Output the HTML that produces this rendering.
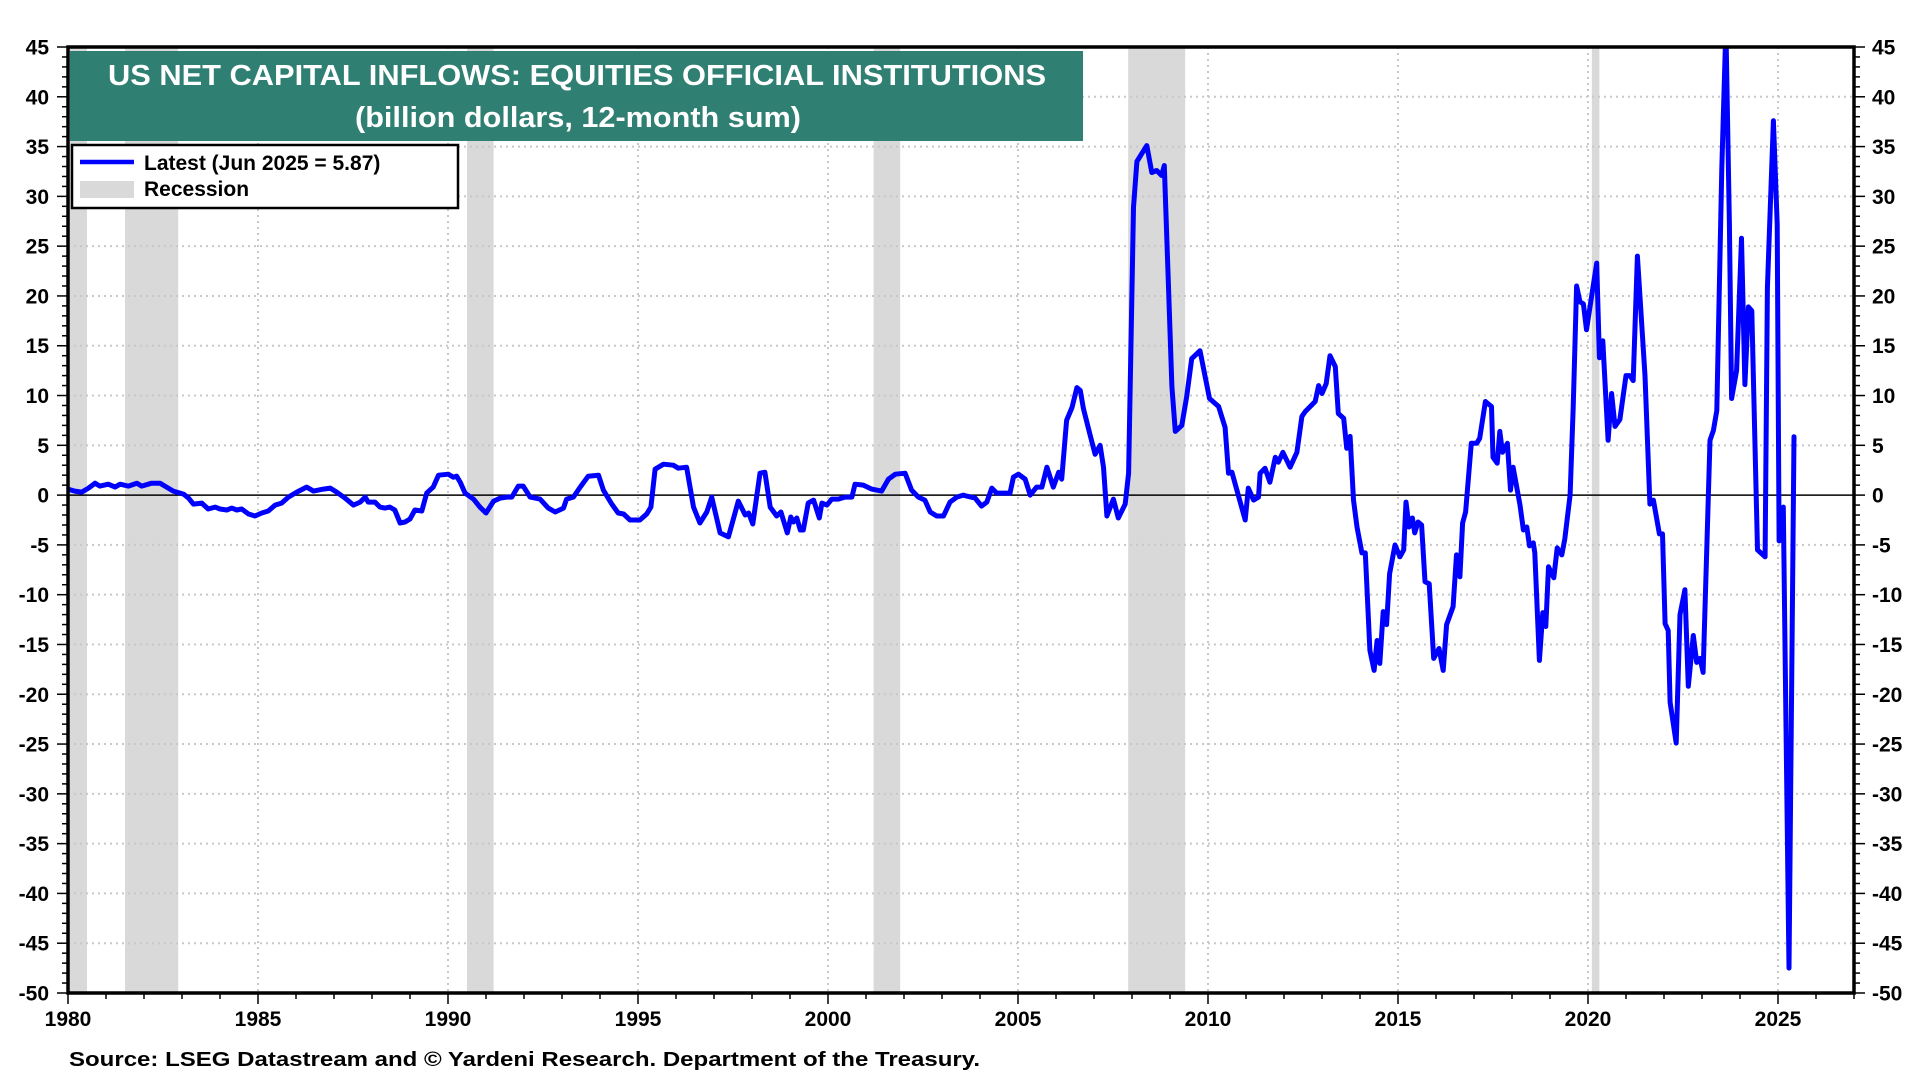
<!DOCTYPE html>
<html><head><meta charset="utf-8"><title>US Net Capital Inflows: Equities Official Institutions</title>
<style>
html,body{margin:0;padding:0;background:#fff;}
svg{display:block;font-family:"Liberation Sans",Arial,sans-serif;font-weight:bold;}
</style></head>
<body>
<svg id="chart" width="1920" height="1080" viewBox="0 0 1920 1080" xmlns="http://www.w3.org/2000/svg">
  <defs><clipPath id="plotClip"><rect x="68" y="47" width="1786" height="946"/></clipPath></defs>
  <rect x="0" y="0" width="1920" height="1080" fill="#fff"/>
  <g id="recessions"></g>
  <g id="grid"></g>
  <line id="zeroLine" stroke="#000" stroke-width="1.5"/>
  <g clip-path="url(#plotClip)"><path id="series" fill="none" stroke="#0000ff" stroke-width="5" stroke-linejoin="round" stroke-linecap="round"/></g>
  <rect x="68" y="47" width="1786" height="946" fill="none" stroke="#000" stroke-width="3.5"/>
  <g id="yLeft"></g>
  <g id="yRight"></g>
  <g id="xAxis"></g>
  <g>
    <rect x="70" y="51" width="1013" height="90" fill="#2f7f73"/>
    <text x="108" y="85" fill="#fff" font-size="29" textLength="938" lengthAdjust="spacingAndGlyphs">US NET CAPITAL INFLOWS: EQUITIES OFFICIAL INSTITUTIONS</text>
    <text x="355" y="127" fill="#fff" font-size="29" textLength="446" lengthAdjust="spacingAndGlyphs">(billion dollars, 12-month sum)</text>
  </g>
  <g>
    <rect x="72" y="145" width="386" height="63" fill="#fff" stroke="#000" stroke-width="2.5"/>
    <line x1="80" y1="162" x2="134" y2="162" stroke="#0000ff" stroke-width="4.5"/>
    <text x="144" y="170" font-size="21" fill="#000">Latest (Jun 2025 = 5.87)</text>
    <rect x="80" y="181" width="54" height="17" fill="#d9d9d9"/>
    <text x="144" y="196" font-size="21" fill="#000">Recession</text>
  </g>
  <text x="69" y="1066" font-size="20" fill="#000" textLength="911" lengthAdjust="spacingAndGlyphs">Source: LSEG Datastream and © Yardeni Research. Department of the Treasury.</text>
</svg>
<script>
const dates = [1980.0,1980.18,1980.36,1980.54,1980.71,1980.84,1981.06,1981.24,1981.37,1981.59,1981.81,1981.94,1982.2,1982.42,1982.55,1982.77,1983.04,1983.17,1983.3,1983.52,1983.69,1983.87,1984.0,1984.18,1984.31,1984.44,1984.57,1984.75,1984.92,1985.1,1985.27,1985.45,1985.62,1985.8,1986.02,1986.28,1986.46,1986.72,1986.9,1987.07,1987.29,1987.51,1987.69,1987.82,1987.9,1988.08,1988.21,1988.34,1988.47,1988.6,1988.74,1988.87,1989.0,1989.13,1989.31,1989.44,1989.61,1989.75,1990.01,1990.14,1990.23,1990.32,1990.45,1990.67,1990.84,1991.0,1991.2,1991.37,1991.54,1991.68,1991.85,1991.98,1992.16,1992.42,1992.64,1992.82,1993.04,1993.12,1993.3,1993.48,1993.69,1993.96,1994.09,1994.31,1994.48,1994.62,1994.79,1995.05,1995.23,1995.34,1995.45,1995.67,1995.93,1996.06,1996.28,1996.46,1996.63,1996.81,1996.94,1997.16,1997.38,1997.64,1997.82,1997.91,1998.02,1998.21,1998.34,1998.48,1998.65,1998.76,1998.93,1999.02,1999.09,1999.18,1999.27,1999.35,1999.48,1999.62,1999.77,1999.84,1999.97,2000.1,2000.27,2000.45,2000.63,2000.71,2000.93,2001.15,2001.41,2001.59,2001.77,2002.03,2002.2,2002.38,2002.55,2002.69,2002.86,2003.04,2003.21,2003.39,2003.56,2003.65,2003.87,2004.04,2004.18,2004.31,2004.44,2004.79,2004.88,2005.01,2005.19,2005.32,2005.49,2005.63,2005.76,2005.93,2006.07,2006.15,2006.28,2006.42,2006.55,2006.64,2006.72,2006.9,2007.03,2007.16,2007.25,2007.34,2007.51,2007.64,2007.82,2007.91,2008.04,2008.13,2008.21,2008.39,2008.52,2008.65,2008.78,2008.85,2008.96,2009.05,2009.14,2009.31,2009.44,2009.57,2009.79,2010.04,2010.28,2010.45,2010.54,2010.63,2010.98,2011.06,2011.2,2011.33,2011.37,2011.5,2011.63,2011.77,2011.85,2011.97,2012.16,2012.34,2012.47,2012.56,2012.82,2012.91,2013.0,2013.11,2013.21,2013.35,2013.43,2013.57,2013.65,2013.74,2013.83,2013.92,2014.05,2014.14,2014.26,2014.37,2014.45,2014.52,2014.61,2014.7,2014.78,2014.92,2015.05,2015.15,2015.21,2015.29,2015.38,2015.44,2015.53,2015.62,2015.71,2015.82,2015.94,2016.08,2016.19,2016.28,2016.45,2016.54,2016.63,2016.7,2016.78,2016.93,2017.07,2017.15,2017.3,2017.46,2017.5,2017.61,2017.68,2017.75,2017.88,2017.96,2018.03,2018.21,2018.3,2018.39,2018.46,2018.56,2018.6,2018.72,2018.81,2018.89,2018.96,2019.1,2019.19,2019.31,2019.39,2019.53,2019.61,2019.7,2019.79,2019.88,2019.96,2020.23,2020.3,2020.39,2020.53,2020.62,2020.71,2020.84,2021.0,2021.1,2021.19,2021.3,2021.5,2021.63,2021.72,2021.88,2021.96,2022.03,2022.11,2022.16,2022.32,2022.42,2022.55,2022.64,2022.77,2022.86,2022.95,2023.03,2023.21,2023.3,2023.39,2023.52,2023.63,2023.72,2023.78,2023.91,2024.04,2024.13,2024.22,2024.31,2024.46,2024.66,2024.72,2024.88,2024.98,2025.03,2025.14,2025.29,2025.42];
const values = [0.6,0.4,0.3,0.7,1.2,0.9,1.1,0.8,1.1,0.9,1.2,0.9,1.2,1.2,0.9,0.4,0.1,-0.3,-0.9,-0.8,-1.4,-1.2,-1.4,-1.5,-1.3,-1.5,-1.4,-1.9,-2.1,-1.8,-1.6,-1.0,-0.8,-0.2,0.3,0.8,0.4,0.6,0.7,0.3,-0.3,-1.0,-0.7,-0.2,-0.7,-0.7,-1.2,-1.3,-1.2,-1.5,-2.8,-2.7,-2.4,-1.5,-1.6,0.2,0.8,2.0,2.1,1.8,1.9,1.3,0.2,-0.4,-1.2,-1.8,-0.6,-0.3,-0.2,-0.2,0.9,0.9,-0.2,-0.4,-1.3,-1.7,-1.3,-0.4,-0.2,0.8,1.9,2.0,0.5,-0.9,-1.8,-1.9,-2.5,-2.5,-1.9,-1.2,2.6,3.1,3.0,2.7,2.8,-1.2,-2.8,-1.7,-0.2,-3.8,-4.2,-0.6,-2.0,-1.8,-2.9,2.2,2.3,-1.2,-2.1,-1.7,-3.8,-2.2,-2.7,-2.3,-3.5,-3.5,-0.8,-0.5,-2.3,-0.8,-1.0,-0.4,-0.4,-0.2,-0.2,1.1,1.0,0.6,0.4,1.6,2.1,2.2,0.5,-0.2,-0.5,-1.7,-2.1,-2.1,-0.7,-0.2,0,-0.1,-0.3,-1.1,-0.7,0.7,0.2,0.2,1.8,2.1,1.6,0.0,0.8,0.8,2.8,0.8,2.3,1.6,7.5,8.8,10.8,10.5,8.7,6.0,4.1,5.0,2.8,-2.1,-0.4,-2.3,-0.9,2.2,28.9,33.5,34.0,35.1,32.4,32.6,32.1,33.1,20.9,10.9,6.4,7.0,9.9,13.7,14.5,9.7,8.9,6.8,2.2,2.3,-2.5,0.7,-0.5,-0.2,2.2,2.7,1.3,3.8,3.3,4.3,2.8,4.3,7.9,8.4,9.4,11.0,10.2,11.2,14.0,12.9,8.2,7.7,4.7,5.9,-0.5,-3.2,-5.8,-5.8,-15.6,-17.6,-14.6,-16.9,-11.7,-13.0,-7.9,-5.0,-6.2,-5.5,-0.7,-3.2,-2.3,-3.8,-2.7,-3.0,-8.7,-8.9,-16.4,-15.4,-17.6,-13.0,-11.2,-6.0,-8.2,-2.8,-1.7,5.2,5.2,5.7,9.4,8.9,3.8,3.2,6.4,4.3,5.2,0.5,2.8,-1.0,-3.5,-3.2,-5.1,-4.8,-5.8,-16.6,-11.8,-13.2,-7.2,-8.3,-5.3,-6.0,-4.4,0,8.8,21.0,19.4,19.2,16.6,23.3,13.8,15.5,5.5,10.2,6.9,7.6,12.0,12.0,11.5,24.0,12.0,-0.9,-0.5,-3.9,-3.9,-12.9,-13.6,-20.8,-24.9,-12.0,-9.5,-19.2,-14.1,-16.8,-16.4,-17.8,5.5,6.5,8.5,32.8,47.0,27.2,9.7,12.5,25.8,11.1,18.9,18.5,-5.5,-6.2,20.8,37.6,27.2,-4.6,-1.2,-47.5,5.87];
const recessionStarts = [1980.0,1981.5,1990.5,2001.2,2007.9,2020.1];
const recessionEnds = [1980.5,1982.9,1991.2,2001.9,2009.4,2020.3];
const yTicks = [45,40,35,30,25,20,15,10,5,0,-5,-10,-15,-20,-25,-30,-35,-40,-45,-50];
const xTicks = [1980,1985,1990,1995,2000,2005,2010,2015,2020,2025];

const NS = "http://www.w3.org/2000/svg";
const L = 68, R = 1854, T = 47, B = 993;
const X0 = 1980, X1 = 2027, Y0 = -50, Y1 = 45;
function xs(v){ return L + (v - X0) / (X1 - X0) * (R - L); }
function ys(v){ return B - (v - Y0) / (Y1 - Y0) * (B - T); }
function mk(tag, attrs, parent){ const e = document.createElementNS(NS, tag); for (const k in attrs) e.setAttribute(k, attrs[k]); parent.appendChild(e); return e; }

const rec = document.getElementById('recessions');
recessionStarts.forEach((s, i) => {
  const r = mk('rect', {x: xs(s), y: T, width: xs(recessionEnds[i]) - xs(s), height: B - T, fill: '#d9d9d9'}, rec);
  
  
});

const grid = document.getElementById('grid');
yTicks.forEach(v => {
  if (v === Y0 || v === Y1 || v === 0) return;
  const g = mk('line', {x1: L, x2: R, y1: ys(v), y2: ys(v), stroke: '#c8c8c8', 'stroke-width': 2, 'stroke-dasharray': '2,4'}, grid);
  
  
});
xTicks.forEach(v => {
  if (v === X0) return;
  const g = mk('line', {x1: xs(v), x2: xs(v), y1: T, y2: B, stroke: '#c8c8c8', 'stroke-width': 2, 'stroke-dasharray': '2,4'}, grid);
  
  
});
const z = document.getElementById('zeroLine');
z.setAttribute('x1', L); z.setAttribute('x2', R); z.setAttribute('y1', ys(0)); z.setAttribute('y2', ys(0));

let d = '';
dates.forEach((t, i) => { d += (i ? 'L' : 'M') + xs(t).toFixed(1) + ',' + ys(values[i]).toFixed(1); });
document.getElementById('series').setAttribute('d', d);

const yl = document.getElementById('yLeft'), yr = document.getElementById('yRight');
for (let v = Y0; v <= Y1; v++) {
  const major = v % 5 === 0;
  mk('line', {x1: L - (major ? 11 : 6), x2: L, y1: ys(v), y2: ys(v), stroke: '#000', 'stroke-width': 1.5}, yl);
  mk('line', {x1: R, x2: R + (major ? 11 : 6), y1: ys(v), y2: ys(v), stroke: '#000', 'stroke-width': 1.5}, yr);
}
yTicks.forEach(v => {
  const a = mk('text', {x: 49, y: ys(v) + 7.5, 'text-anchor': 'end', 'font-size': 21}, yl);
  a.textContent = v;
  
  
  const b = mk('text', {x: 1872, y: ys(v) + 7.5, 'text-anchor': 'start', 'font-size': 21}, yr);
  b.textContent = v;
  
  
});
const xa = document.getElementById('xAxis');
for (let yr2 = X0; yr2 <= X1; yr2++) {
  const major = yr2 % 5 === 0;
  mk('line', {x1: xs(yr2), x2: xs(yr2), y1: B, y2: B + (major ? 11 : 6), stroke: '#000', 'stroke-width': 1.5}, xa);
}
xTicks.forEach(v => {
  const t = mk('text', {x: xs(v), y: 1026, 'text-anchor': 'middle', 'font-size': 21}, xa);
  t.textContent = v;
  
  
});
</script>
</body></html>
